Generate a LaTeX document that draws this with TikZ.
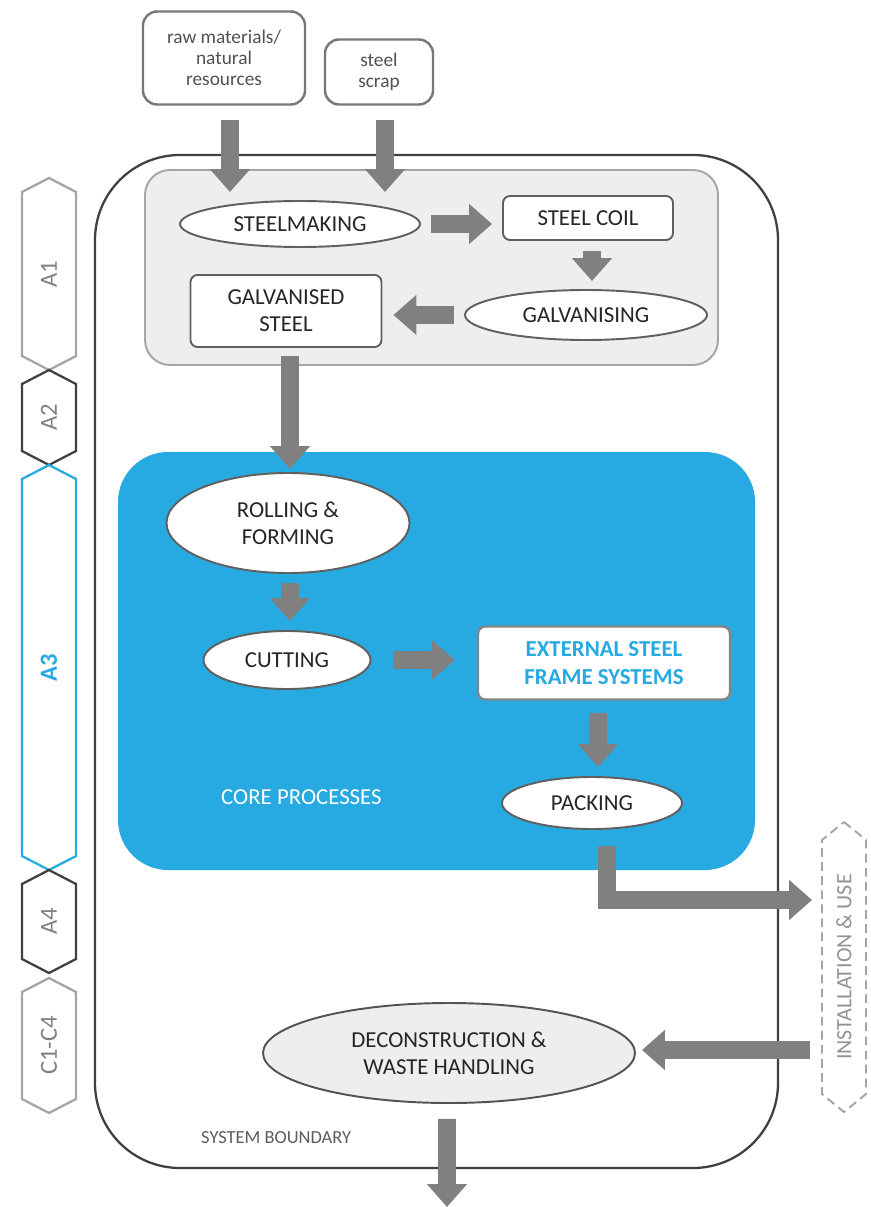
\documentclass[tikz,border=0pt]{standalone}
\usepackage{fontspec}
\setmainfont{Carlito}
\usepackage{tikz}
\usetikzlibrary{arrows.meta, shapes.geometric}

\definecolor{coreblue}{RGB}{39,170,225}
\definecolor{flowgray}{RGB}{128,128,128}
\definecolor{boxgray}{RGB}{238,238,238}
\definecolor{edgegray}{RGB}{96,96,96}
\definecolor{lightedge}{RGB}{165,165,165}
\definecolor{darkedge}{RGB}{64,64,64}
\definecolor{labelgray}{RGB}{128,128,128}
\definecolor{textdark}{RGB}{38,38,38}

\tikzset{
	flow/.style={draw=flowgray, line width=10pt, line join=miter, -{Triangle[width=22pt,length=13pt]}},
	procbox/.style={rectangle, rounded corners=4pt, draw=edgegray, line width=1.1pt, fill=white, text=textdark, font=\fontsize{13}{15.5}\selectfont, align=center, inner sep=2pt},
	procell/.style={ellipse, draw=edgegray, line width=1.1pt, fill=white, text=textdark, font=\fontsize{13}{15.5}\selectfont, align=center, inner sep=0pt},
	inputbox/.style={rectangle, rounded corners=8pt, draw=edgegray!85, line width=1.4pt, fill=white, text=textdark!80, font=\fontsize{11}{12}\selectfont, align=center, inner sep=2pt}
}

\begin{document}
\begin{tikzpicture}
	\useasboundingbox (0,0) rectangle (17.42,-24.14);

	\newcommand{\drawStage}[5]
	{
		\draw [#3, line width=1.3pt] (0.98,#1) -- (1.52,#1-0.28) -- (1.52,#2+0.28) -- (0.98,#2) -- (0.44,#2+0.28) -- (0.44,#1-0.28) -- cycle;
		\node [rotate=90, font=\fontsize{14}{16}\selectfont, #4] at (0.98,{(#1+#2)/2}) {#5};
	}

	% life cycle stages
	\drawStage{-3.56}{-7.40}{lightedge}{text=labelgray}{A1}
	\drawStage{-7.40}{-9.30}{darkedge}{text=labelgray}{A2}
	\drawStage{-9.30}{-17.40}{coreblue}{text=coreblue, font=\fontsize{14}{16}\selectfont\bfseries}{A3}
	\drawStage{-17.40}{-19.46}{darkedge}{text=labelgray}{A4}
	\drawStage{-19.56}{-22.26}{lightedge}{text=labelgray}{C1-C4}

	% boundaries
	\draw [darkedge, line width=1.3pt, rounded corners=1.7cm] (1.90,-3.10) rectangle (15.56,-23.36);
	\draw [draw=lightedge, fill=boxgray, line width=1.1pt, rounded corners=0.5cm] (2.90,-3.40) rectangle (14.36,-7.30);
	\fill [coreblue, rounded corners=1.0cm] (2.36,-9.04) rectangle (15.10,-17.40);

	\node [anchor=west, text=white, font=\fontsize{13}{15}\selectfont] (core) at (4.30,-15.94) {CORE PROCESSES};
	\node [anchor=west, text=textdark!75, font=\fontsize{10.5}{12}\selectfont] (sysb) at (3.90,-22.76) {SYSTEM BOUNDARY};

	% inputs
	\node [inputbox, minimum width=3.24cm, minimum height=1.86cm] (raw) at (4.48,-1.16) {raw materials/\\natural\\resources};
	\node [inputbox, minimum width=2.16cm, minimum height=1.30cm] (scrap) at (7.58,-1.44) {steel\\scrap};

	% A1
	\node [procell, minimum width=4.8cm, minimum height=0.92cm] (stmk) at (6.00,-4.48) {STEELMAKING};
	\node [procbox, minimum width=3.4cm, minimum height=0.88cm] (coil) at (11.76,-4.36) {STEEL COIL};
	\node [procell, minimum width=4.84cm, minimum height=1.0cm] (galv) at (11.72,-6.30) {GALVANISING};
	\node [procbox, minimum width=3.82cm, minimum height=1.44cm] (gsteel) at (5.72,-6.22) {GALVANISED\\STEEL};

	% A3
	\node [procell, minimum width=4.86cm, minimum height=2.0cm] (roll) at (5.76,-10.46) {ROLLING \&\\FORMING};
	\node [procell, minimum width=3.34cm, minimum height=1.16cm] (cut) at (5.74,-13.20) {CUTTING};
	\node [procbox, draw=lightedge!80!black, line width=1.4pt, text=coreblue, font=\fontsize{13}{15.5}\selectfont\bfseries, minimum width=5.04cm, minimum height=1.46cm] (esfs) at (12.08,-13.26) {EXTERNAL STEEL\\FRAME SYSTEMS};
	\node [procell, minimum width=3.6cm, minimum height=1.04cm] (pack) at (11.84,-16.06) {PACKING};

	% A4, C
	\draw [lightedge, line width=1.1pt, dash pattern=on 5pt off 3pt] (16.88,-16.44) -- (17.32,-16.80) -- (17.32,-21.88) -- (16.88,-22.24) -- (16.44,-21.88) -- (16.44,-16.80) -- cycle;
	\node [rotate=90, text=labelgray!85, font=\fontsize{12.5}{14}\selectfont] (inst) at (16.88,-19.34) {INSTALLATION \& USE};
	\coordinate (instin) at (16.24,-18.0);
	\coordinate (instout) at (16.20,-21.0);
	\node [procell, fill=boxgray, draw=darkedge!90, minimum width=7.44cm, minimum height=2.0cm] (decon) at (8.98,-21.06) {DECONSTRUCTION \&\\WASTE HANDLING};
	\coordinate (outend) at (8.94,-24.14);

	% flows
	\draw [flow, shorten <=0.28cm, shorten >=0.16cm] ([xshift=0.12cm]raw.south) -- ([xshift=0.12cm]raw.south |- stmk.north);
	\draw [flow, shorten <=0.28cm, shorten >=0.16cm] ([xshift=0.12cm]scrap.south) -- ([xshift=0.12cm]scrap.south |- stmk.north);
	\draw [flow, shorten <=0.2cm, shorten >=0.2cm] (stmk.east) -- (stmk.east -| coil.west);
	\draw [flow, shorten <=0.2cm, shorten >=0.16cm] ([xshift=0.08cm]coil.south) -- ([xshift=0.08cm]coil.south |- galv.north);
	\draw [flow, shorten <=0.2cm, shorten >=0.22cm] (galv.west) -- (galv.west -| gsteel.east);
	\draw [flow, shorten <=0.16cm, shorten >=0.06cm] ([xshift=0.08cm]gsteel.south) -- ([xshift=0.08cm]gsteel.south |- roll.north);
	\draw [flow, shorten <=0.18cm, shorten >=0.18cm] ([xshift=0.04cm]roll.south) -- ([xshift=0.04cm]roll.south |- cut.north);
	\draw [flow, shorten <=0.44cm, shorten >=0.44cm] (cut.east) -- (cut.east -| esfs.west);
	\draw [flow, shorten <=0.24cm, shorten >=0.18cm] ([xshift=-0.12cm]esfs.south) -- ([xshift=-0.12cm]esfs.south |- pack.north);
	\draw [flow, shorten <=0.32cm] ([xshift=0.3cm]pack.south) |- (instin);
	\draw [flow, shorten >=0.12cm] (instout) -- (decon.east |- instout);
	\draw [flow, shorten <=0.3cm] ([xshift=-0.04cm]decon.south) -- (outend);
\end{tikzpicture}
\end{document}
